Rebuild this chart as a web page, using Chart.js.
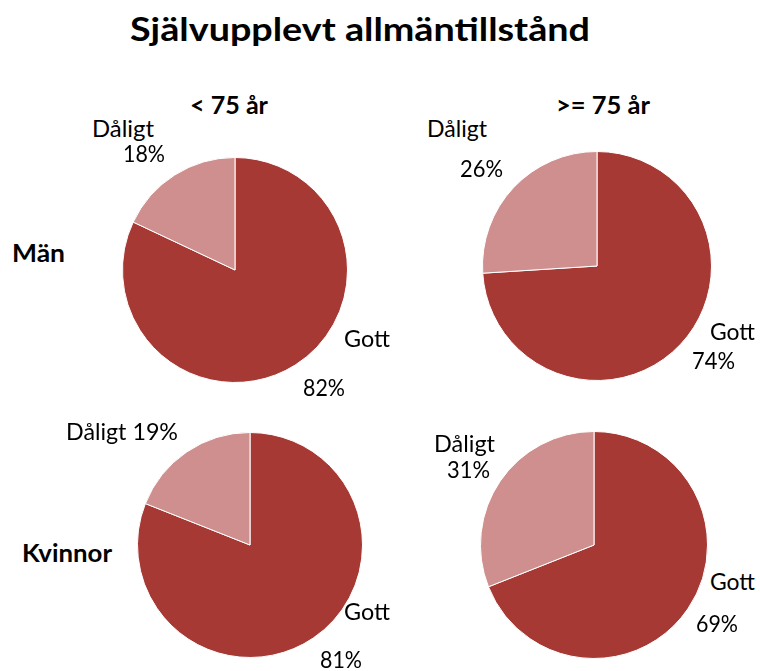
<!DOCTYPE html>
<html>
<head>
<meta charset="utf-8">
<script src="https://cdn.jsdelivr.net/npm/chart.js@4.4.0/dist/chart.umd.min.js"></script>
<style>
  html, body { margin: 0; padding: 0; background: #fff; }
  #page { position: relative; width: 760px; height: 671px; overflow: hidden; font-family: Lato, "Noto Sans", sans-serif; color: #000; }
  .t { position: absolute; white-space: nowrap; line-height: 1; transform-origin: 0 0; }
  canvas { position: absolute; }
</style>
</head>
<body>
<div id="page"></div>
<script>
// ---- data ----
const chartTitle = 'Självupplevt allmäntillstånd';
const categories = ['Gott', 'Dåligt'];
const ageGroups = ['< 75 år', '>= 75 år'];
const sexes = ['Män', 'Kvinnor'];
const manUnder75 = [82, 18];
const manOver75 = [74, 26];
const kvinnorUnder75 = [81, 19];
const kvinnorOver75 = [69, 31];

// ---- layout / style ----
const colors = ['#A63934', '#CF8F8F'];
const page = document.getElementById('page');

// x0..x1 = horizontal extent, base = baseline y, size = font px
function addText(txt, bold, size, x0, x1, base) {
  const d = document.createElement('div');
  d.className = 't';
  d.textContent = txt;
  d.style.fontSize = size + 'px';
  d.style.fontWeight = bold ? 'bold' : 'normal';
  d.style.left = x0 + 'px';
  d.style.top = (base - 0.887 * size) + 'px';
  page.appendChild(d);
  const w = d.getBoundingClientRect().width;
  if (w > 0) d.style.transform = 'scaleX(' + ((x1 - x0) / w).toFixed(3) + ')';
  return d;
}

addText(chartTitle, true, 33, 130, 590, 41);
addText(ageGroups[0], true, 24, 190, 268, 114);
addText(ageGroups[1], true, 24, 556, 650, 114);
addText(sexes[0], true, 24, 12, 65, 262);
addText(sexes[1], true, 24, 22, 112, 562);

const pies = [
  { data: manUnder75, cx: 235, cy: 270, r: 112,
    labels: [ { cat: 0, x0: 344, x1: 390, b: 347 }, { pct: 0, x0: 303, x1: 345, b: 396 },
              { cat: 1, x0: 92, x1: 154, b: 137 }, { pct: 1, x0: 123, x1: 165, b: 162 } ] },
  { data: manOver75, cx: 597, cy: 266, r: 114,
    labels: [ { cat: 0, x0: 710, x1: 755, b: 340 }, { pct: 0, x0: 692, x1: 735, b: 369 },
              { cat: 1, x0: 427, x1: 487, b: 137 }, { pct: 1, x0: 460, x1: 503, b: 177 } ] },
  { data: kvinnorUnder75, cx: 250, cy: 545, r: 112,
    labels: [ { cat: 0, x0: 344, x1: 390, b: 620 }, { pct: 0, x0: 320, x1: 362, b: 668 },
              { cat: 1, pct: 1, x0: 66, x1: 178, b: 440 } ] },
  { data: kvinnorOver75, cx: 594, cy: 545, r: 113,
    labels: [ { cat: 0, x0: 710, x1: 755, b: 590 }, { pct: 0, x0: 696, x1: 738, b: 632 },
              { cat: 1, x0: 434, x1: 495, b: 452 }, { pct: 1, x0: 447, x1: 490, b: 478 } ] }
];

pies.forEach(p => {
  const size = 2 * p.r + 2;
  const c = document.createElement('canvas');
  c.width = size; c.height = size;
  c.style.width = size + 'px'; c.style.height = size + 'px';
  c.style.left = (p.cx - size / 2) + 'px';
  c.style.top = (p.cy - size / 2) + 'px';
  page.appendChild(c);
  new Chart(c, {
    type: 'pie',
    data: {
      labels: categories,
      datasets: [{ data: p.data, backgroundColor: colors, borderColor: '#ffffff', borderWidth: 1 }]
    },
    options: {
      responsive: false,
      animation: false,
      layout: { padding: 0 },
      plugins: { legend: { display: false }, tooltip: { enabled: false }, title: { display: false } }
    }
  });
  p.labels.forEach(l => {
    const parts = [];
    if (l.cat !== undefined) parts.push(categories[l.cat]);
    if (l.pct !== undefined) parts.push(p.data[l.pct] + '%');
    addText(parts.join(' '), false, 24, l.x0, l.x1, l.b);
  });
});
</script>
</body>
</html>
